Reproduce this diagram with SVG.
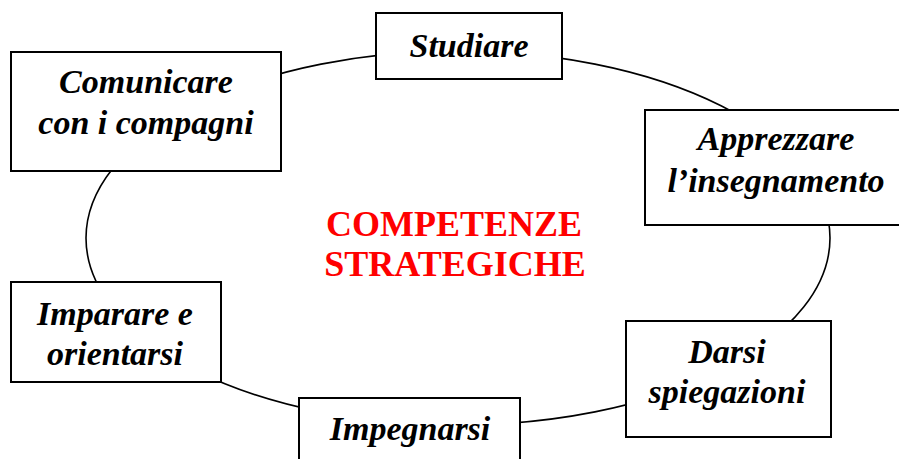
<svg xmlns="http://www.w3.org/2000/svg" width="899" height="459" viewBox="0 0 899 459">
<style>
.box{fill:#fff;stroke:#000;stroke-width:2}
.lbl{font-family:"Liberation Serif","Times New Roman",serif;font-style:italic;font-weight:bold;font-size:34px;fill:#000;text-anchor:middle}
.title{font-family:"Liberation Serif","Times New Roman",serif;font-weight:bold;font-size:36px;fill:#ff0000;text-anchor:middle}
.ring{fill:none;stroke:#000;stroke-width:1.6}
</style>
<rect width="899" height="459" fill="#fff"/>
<g id="connectors">
<ellipse class="ring" cx="458" cy="238" rx="372" ry="187"/>
</g>
<g id="center">
<text class="title" x="454" y="236">COMPETENZE</text>
<text class="title" x="455" y="276">STRATEGICHE</text>
</g>
<g id="studiare">
<rect class="box" x="376" y="13" width="186" height="66"/>
<text class="lbl" x="469" y="57">Studiare</text>
</g>
<g id="comunicare">
<rect class="box" x="11" y="52" width="270" height="119"/>
<text class="lbl" x="146" y="93">Comunicare</text>
<text class="lbl" x="146" y="134">con i compagni</text>
</g>
<g id="apprezzare">
<rect class="box" x="645" y="110" width="258" height="115"/>
<text class="lbl" x="776" y="150">Apprezzare</text>
<text class="lbl" x="776" y="192">l’insegnamento</text>
</g>
<g id="imparare">
<rect class="box" x="11" y="282" width="210" height="100"/>
<text class="lbl" x="115" y="325">Imparare e</text>
<text class="lbl" x="115" y="365">orientarsi</text>
</g>
<g id="darsi">
<rect class="box" x="626" y="321" width="205" height="116"/>
<text class="lbl" x="727" y="363">Darsi</text>
<text class="lbl" x="727" y="403">spiegazioni</text>
</g>
<g id="impegnarsi">
<rect class="box" x="299" y="398" width="221" height="70"/>
<text class="lbl" x="410" y="440">Impegnarsi</text>
</g>
</svg>
